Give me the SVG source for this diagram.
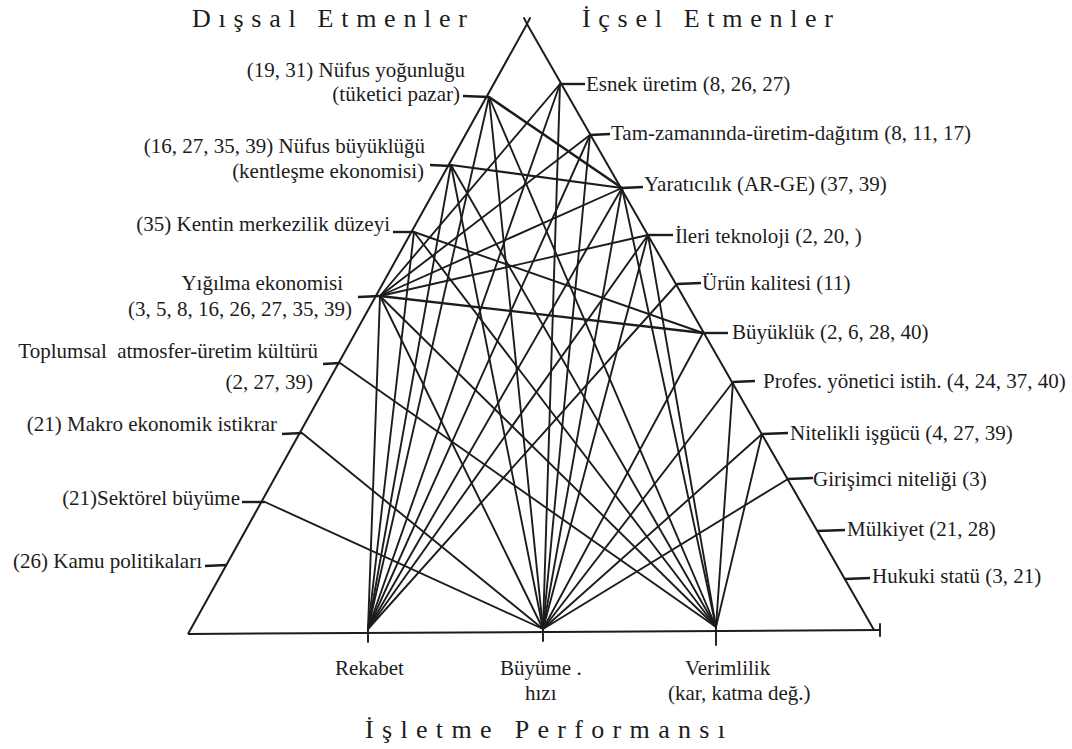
<svg xmlns="http://www.w3.org/2000/svg" width="1072" height="749" viewBox="0 0 1072 749">
<style>
.bg{fill:#ffffff}
.ln{stroke:#1c1c1c;stroke-width:1.9;fill:none;stroke-linecap:round}
.tk{stroke:#1c1c1c;stroke-width:2.4;fill:none}
.frame{stroke:#1c1c1c;stroke-width:2;fill:none;stroke-linejoin:miter}
.lb{font-family:"Liberation Serif","Times New Roman",serif;font-size:21px;fill:#1c1c1c}
.ti{font-family:"Liberation Serif","Times New Roman",serif;font-size:26px;fill:#1c1c1c}
.e{text-anchor:end}
</style>
<rect class="bg" x="0" y="0" width="1072" height="749"/>

<g id="triangle">
  <path class="frame" d="M188,634 L527,24 L874,630"/>
  <path class="frame" d="M188,634 L880,630"/>
  <path class="ln" d="M524,18 L527,24 L530,18 M880,624 L880,636 M368,630 L368,642 M543,630 L543,641 M716,628 L716,645"/>
</g>

<g id="titles">
  <text class="ti" x="192" y="27" textLength="275" lengthAdjust="spacing">Dışsal Etmenler</text>
  <text class="ti" x="582" y="27" textLength="251" lengthAdjust="spacing">İçsel Etmenler</text>
  <text class="ti" x="365" y="738" textLength="360" lengthAdjust="spacing">İşletme Performansı</text>
</g>

<g id="connectors">
  <!-- left factors -->
  <line class="ln" x1="489" y1="97" x2="622" y2="188" style="stroke-width:2.6"/>
  <line class="ln" x1="489" y1="97" x2="368" y2="629"/>
  <line class="ln" x1="489" y1="97" x2="543" y2="629"/>
  <line class="ln" x1="489" y1="97" x2="716" y2="627"/>
  <line class="ln" x1="451" y1="165" x2="622" y2="188" style="stroke-width:2.2"/>
  <line class="ln" x1="451" y1="165" x2="368" y2="629"/>
  <line class="ln" x1="451" y1="165" x2="543" y2="629"/>
  <line class="ln" x1="451" y1="165" x2="716" y2="627"/>
  <line class="ln" x1="414" y1="232" x2="703" y2="333"/>
  <line class="ln" x1="414" y1="232" x2="368" y2="629"/>
  <line class="ln" x1="414" y1="232" x2="716" y2="627"/>
  <line class="ln" x1="380" y1="296" x2="368" y2="629"/>
  <line class="ln" x1="380" y1="296" x2="543" y2="629"/>
  <line class="ln" x1="380" y1="296" x2="716" y2="627"/>
  <line class="ln" x1="380" y1="296" x2="560" y2="84"/>
  <line class="ln" x1="380" y1="296" x2="590" y2="135"/>
  <line class="ln" x1="380" y1="296" x2="622" y2="188"/>
  <line class="ln" x1="380" y1="296" x2="648" y2="235"/>
  <line class="ln" x1="380" y1="296" x2="703" y2="333" style="stroke-width:2.3"/>
  <line class="ln" x1="340" y1="363" x2="716" y2="627"/>
  <line class="ln" x1="302" y1="433" x2="543" y2="629"/>
  <line class="ln" x1="265" y1="502" x2="543" y2="629"/>
  <!-- right factors -->
  <line class="ln" x1="560" y1="84" x2="368" y2="629"/>
  <line class="ln" x1="560" y1="84" x2="543" y2="629"/>
  <line class="ln" x1="590" y1="135" x2="368" y2="629"/>
  <line class="ln" x1="590" y1="135" x2="543" y2="629"/>
  <line class="ln" x1="622" y1="188" x2="368" y2="629"/>
  <line class="ln" x1="622" y1="188" x2="543" y2="629"/>
  <line class="ln" x1="622" y1="188" x2="716" y2="627"/>
  <line class="ln" x1="648" y1="235" x2="368" y2="629"/>
  <line class="ln" x1="648" y1="235" x2="543" y2="629"/>
  <line class="ln" x1="648" y1="235" x2="716" y2="627"/>
  <line class="ln" x1="677" y1="284" x2="368" y2="629"/>
  <line class="ln" x1="703" y1="333" x2="543" y2="629"/>
  <line class="ln" x1="733" y1="382" x2="543" y2="629"/>
  <line class="ln" x1="733" y1="382" x2="716" y2="627"/>
  <line class="ln" x1="762" y1="434" x2="543" y2="629"/>
  <line class="ln" x1="762" y1="434" x2="716" y2="627"/>
  <line class="ln" x1="788" y1="479" x2="543" y2="629"/>
</g>

<g id="n-nufus-yogunlugu">
  <path class="tk" d="M463,96 L489,97"/>
  <text class="lb e" x="465" y="77">(19, 31) Nüfus yoğunluğu</text>
  <text class="lb e" x="460" y="101">(tüketici pazar)</text>
</g>
<g id="n-nufus-buyuklugu">
  <path class="tk" d="M430,165 L451,166"/>
  <text class="lb e" x="425" y="153">(16, 27, 35, 39) Nüfus büyüklüğü</text>
  <text class="lb e" x="424" y="178">(kentleşme ekonomisi)</text>
</g>
<g id="n-kentin-merkezilik">
  <path class="tk" d="M393,232 L414,232"/>
  <text class="lb e" x="390" y="231">(35) Kentin merkezilik düzeyi</text>
</g>
<g id="n-yigilma">
  <path class="tk" d="M358,297 L380,296"/>
  <text class="lb e" x="343" y="290">Yığılma ekonomisi</text>
  <text class="lb e" x="352" y="316">(3, 5, 8, 16, 26, 27, 35, 39)</text>
</g>
<g id="n-toplumsal">
  <path class="tk" d="M323,364 L340,363"/>
  <text class="lb e" x="318" y="358" xml:space="preserve">Toplumsal  atmosfer-üretim kültürü</text>
  <text class="lb e" x="313" y="389">(2, 27, 39)</text>
</g>
<g id="n-makro">
  <path class="tk" d="M282,434 L302,433"/>
  <text class="lb e" x="277" y="431">(21) Makro ekonomik istikrar</text>
</g>
<g id="n-sektorel">
  <path class="tk" d="M242,502 L265,502"/>
  <text class="lb e" x="240" y="505">(21)Sektörel büyüme</text>
</g>
<g id="n-kamu">
  <path class="tk" d="M205,566 L227,565"/>
  <text class="lb e" x="202" y="568">(26) Kamu politikaları</text>
</g>

<g id="n-esnek">
  <path class="tk" d="M560,84 L585,84"/>
  <text class="lb" x="586" y="91">Esnek üretim (8, 26, 27)</text>
</g>
<g id="n-tam-zamaninda">
  <path class="tk" d="M590,135 L610,134"/>
  <text class="lb" x="611" y="140">Tam-zamanında-üretim-dağıtım (8, 11, 17)</text>
</g>
<g id="n-yaraticilik">
  <path class="tk" d="M622,188 L643,187"/>
  <text class="lb" x="644" y="191">Yaratıcılık (AR-GE) (37, 39)</text>
</g>
<g id="n-ileri-teknoloji">
  <path class="tk" d="M648,235 L673,235"/>
  <text class="lb" x="675" y="243">İleri teknoloji (2, 20, )</text>
</g>
<g id="n-urun-kalitesi">
  <path class="tk" d="M677,284 L701,283"/>
  <text class="lb" x="702" y="290">Ürün kalitesi (11)</text>
</g>
<g id="n-buyukluk">
  <path class="tk" d="M703,333 L728,333"/>
  <text class="lb" x="732" y="339">Büyüklük (2, 6, 28, 40)</text>
</g>
<g id="n-profes">
  <path class="tk" d="M733,382 L755,381"/>
  <text class="lb" x="763" y="388">Profes. yönetici istih. (4, 24, 37, 40)</text>
</g>
<g id="n-nitelikli">
  <path class="tk" d="M762,434 L788,433"/>
  <text class="lb" x="790" y="440">Nitelikli işgücü (4, 27, 39)</text>
</g>
<g id="n-girisimci">
  <path class="tk" d="M788,479 L813,478"/>
  <text class="lb" x="813" y="486">Girişimci niteliği (3)</text>
</g>
<g id="n-mulkiyet">
  <path class="tk" d="M817,531 L845,530"/>
  <text class="lb" x="847" y="536">Mülkiyet (21, 28)</text>
</g>
<g id="n-hukuki">
  <path class="tk" d="M845,579 L870,578"/>
  <text class="lb" x="872" y="583">Hukuki statü (3, 21)</text>
</g>

<g id="n-rekabet">
  <text class="lb" x="335" y="675">Rekabet</text>
</g>
<g id="n-buyume">
  <text class="lb" x="500" y="675">Büyüme .</text>
  <text class="lb" x="525" y="700">hızı</text>
</g>
<g id="n-verimlilik">
  <text class="lb" x="685" y="675">Verimlilik</text>
  <text class="lb" x="668" y="700">(kar, katma değ.)</text>
</g>
</svg>
